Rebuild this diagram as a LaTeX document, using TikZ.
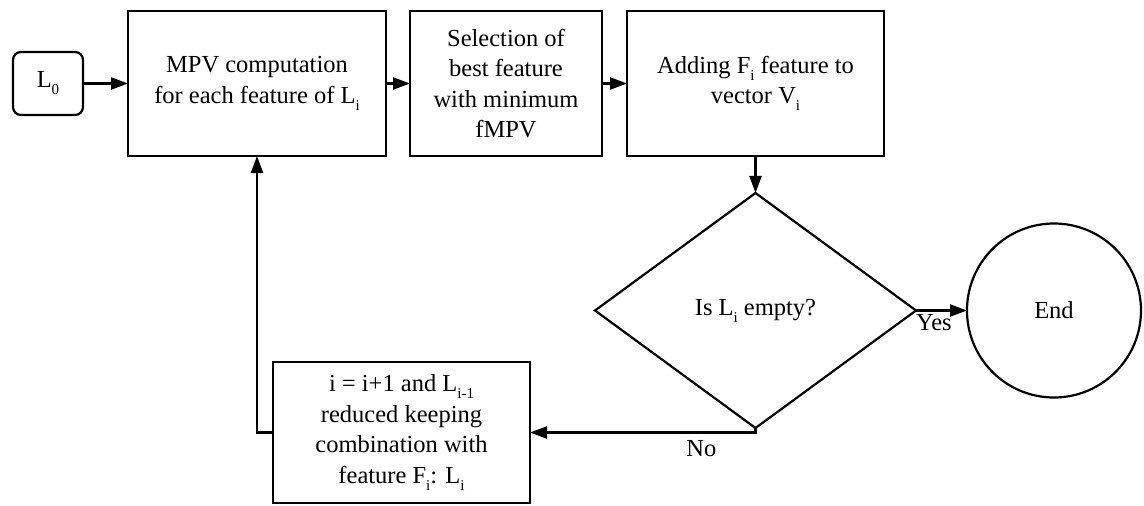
\documentclass[tikz,border=0pt]{standalone}
\usepackage{fontspec}
\setmainfont{Liberation Serif}
\usetikzlibrary{arrows.meta,positioning,shapes.geometric}
\newcommand\lowsub[1]{\raisebox{-7pt}{\fontsize{15}{15}\selectfont #1}}

\begin{document}
\begin{tikzpicture}[x=1pt,y=-1pt,line width=2.2pt,
	>={Triangle[length=17pt,width=12pt]},
	font=\fontsize{24.5}{30.5}\selectfont,
	block/.style={draw,rectangle,align=center,inner sep=0pt,outer sep=0pt,minimum width=258pt,minimum height=145pt},
	start/.style={draw,rounded corners=8pt,inner sep=0pt,outer sep=0pt,minimum width=70pt,minimum height=63pt},
	test/.style={draw,diamond,inner sep=0pt,outer sep=0pt,minimum width=321pt,minimum height=235pt},
	stop/.style={draw,circle,inner sep=0pt,outer sep=0pt,minimum size=174pt}]
\useasboundingbox (0,0) rectangle (1144,506);
\node[start] (l0) at (48,83.5) {L\lowsub{0}};
\node[block] (mpv)[right=45pt of l0] {MPV computation\\for each feature of L\lowsub{i}};
\node[block,minimum width=192pt] (sel)[right=24pt of mpv] {Selection of\\best feature\\with minimum\\fMPV};
\node[block,minimum width=257pt] (add)[right=25pt of sel] {Adding F\lowsub{i} feature to\\vector V\lowsub{i}};
\node[test] (dec)[below=37pt of add] {Is L\lowsub{i} empty?};
\node[stop] (end)[right=51pt of dec] {End};
\node[block,minimum width=257pt,minimum height=141pt] (upd) at (401.5,432.5) {i = i+1 and L\lowsub{i-1}\\reduced keeping\\combination with\\feature F\lowsub{i}: L\lowsub{i}};

\path[->]	(l0) edge (mpv)
			(mpv) edge (sel)
			(sel) edge (add)
			(add) edge (dec)
			(dec) edge node[below,pos=0.35] {Yes} (end)
;
\draw[->] (dec.south) -- (dec.south |- upd.east) -- node[below=4pt,pos=0.24] {No} (upd.east);
\draw[->] (upd.west) -| (mpv.south);
\end{tikzpicture}
\end{document}
